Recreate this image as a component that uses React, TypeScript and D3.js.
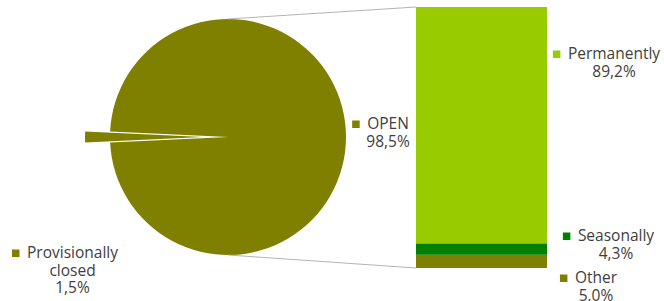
import React, { useEffect, useRef } from 'react';
import * as d3 from 'd3';

const pieCategories = ['OPEN', 'Provisionally closed'];
const pieValues = [98.5, 1.5];
const pieLabels = [['OPEN', '98,5%'], ['Provisionally', 'closed', '1,5%']];

const barCategories = ['Permanently', 'Seasonally', 'Other'];
const barValues = [89.2, 4.3, 5.0];
const barLabels = [['Permanently', '89,2%'], ['Seasonally', '4,3%'], ['Other', '5,0%']];

const pieColors = ['#808000', '#808000'];
const barColors = ['#99cc00', '#008000', '#808000'];

const App: React.FC = () => {
  const svgRef = useRef<SVGSVGElement>(null);

  useEffect(() => {
    if (!svgRef.current) return;
    const svg = d3.select(svgRef.current);
    svg.selectAll('*').remove();

    const font = '"Open Sans", sans-serif';
    const textColor = '#404040';
    const cx = 228;
    const cy = 137;
    const r = 118;
    const explode = 25;

    // pie, rotated so the small slice points left
    const total = d3.sum(pieValues);
    const smallFrac = pieValues[1] / total;
    const start = -Math.PI / 2 + smallFrac * Math.PI;
    const pie = d3.pie<number>().sort(null).startAngle(start).endAngle(start + 2 * Math.PI);
    const arcs = pie(pieValues);
    const arc = d3.arc<d3.PieArcDatum<number>>().innerRadius(0).outerRadius(r);

    const pg = svg.append('g').attr('transform', `translate(${cx},${cy})`);
    pg.selectAll('path')
      .data(arcs)
      .join('path')
      .attr('d', arc)
      .attr('fill', (_, i) => pieColors[i])
      .attr('transform', (d, i) => {
        if (i === 0) return null;
        const a = (d.startAngle + d.endAngle) / 2;
        return `translate(${Math.sin(a) * explode},${-Math.cos(a) * explode})`;
      });

    // bar of pie
    const barX0 = 416;
    const barX1 = 547;
    const y = d3.scaleLinear().domain([0, pieValues[0]]).range([268, 7]);
    const order = [2, 1, 0]; // stacked from bottom: Other, Seasonally, Permanently
    let acc = 0;
    const segs: { i: number; y0: number; y1: number }[] = [];
    order.forEach(i => {
      segs.push({ i, y0: acc, y1: acc + barValues[i] });
      acc += barValues[i];
    });
    svg.append('g')
      .selectAll('rect')
      .data(segs)
      .join('rect')
      .attr('x', barX0)
      .attr('width', barX1 - barX0)
      .attr('y', d => y(d.y1))
      .attr('height', d => y(d.y0) - y(d.y1))
      .attr('fill', d => barColors[d.i]);

    // connector lines
    const lines = [
      [cx, cy - r, barX0, y(pieValues[0])],
      [cx, cy + r, barX0, y(0)],
    ];
    svg.append('g')
      .selectAll('line')
      .data(lines)
      .join('line')
      .attr('x1', d => d[0])
      .attr('y1', d => d[1])
      .attr('x2', d => d[2])
      .attr('y2', d => d[3])
      .attr('stroke', '#b4b4b4')
      .attr('stroke-width', 1);

    // labels: text center x, first baseline, marker color, lines
    const labelDefs = [
      { cx: 388, y: 129, color: pieColors[0], lines: pieLabels[0] },
      { cx: 72.5, y: 258, color: pieColors[1], lines: pieLabels[1] },
      { cx: 614, y: 59, color: barColors[0], lines: barLabels[0] },
      { cx: 616, y: 241, color: barColors[1], lines: barLabels[1] },
      { cx: 596, y: 283, color: barColors[2], lines: barLabels[2] },
    ];
    const lh = 17.7;
    const lg = svg.append('g').attr('font-family', font).attr('font-size', 15.5).attr('fill', textColor);
    labelDefs.forEach(l => {
      const t = lg.append('text').attr('text-anchor', 'middle');
      l.lines.forEach((s, k) => {
        t.append('tspan').attr('x', l.cx).attr('y', l.y + k * lh).text(s);
      });
      const first = (t.select('tspan').node() as SVGTSpanElement);
      const w = first.getComputedTextLength();
      lg.append('rect')
        .attr('x', l.cx - w / 2 - 15)
        .attr('y', l.y - 8.5)
        .attr('width', 7.5)
        .attr('height', 7.5)
        .attr('fill', l.color);
    });
  }, []);

  return (
    <svg
      ref={svgRef}
      width={664}
      height={301}
      style={{ position: 'absolute', left: 0, top: 0, display: 'block' }}
    />
  );
};

export default App;
